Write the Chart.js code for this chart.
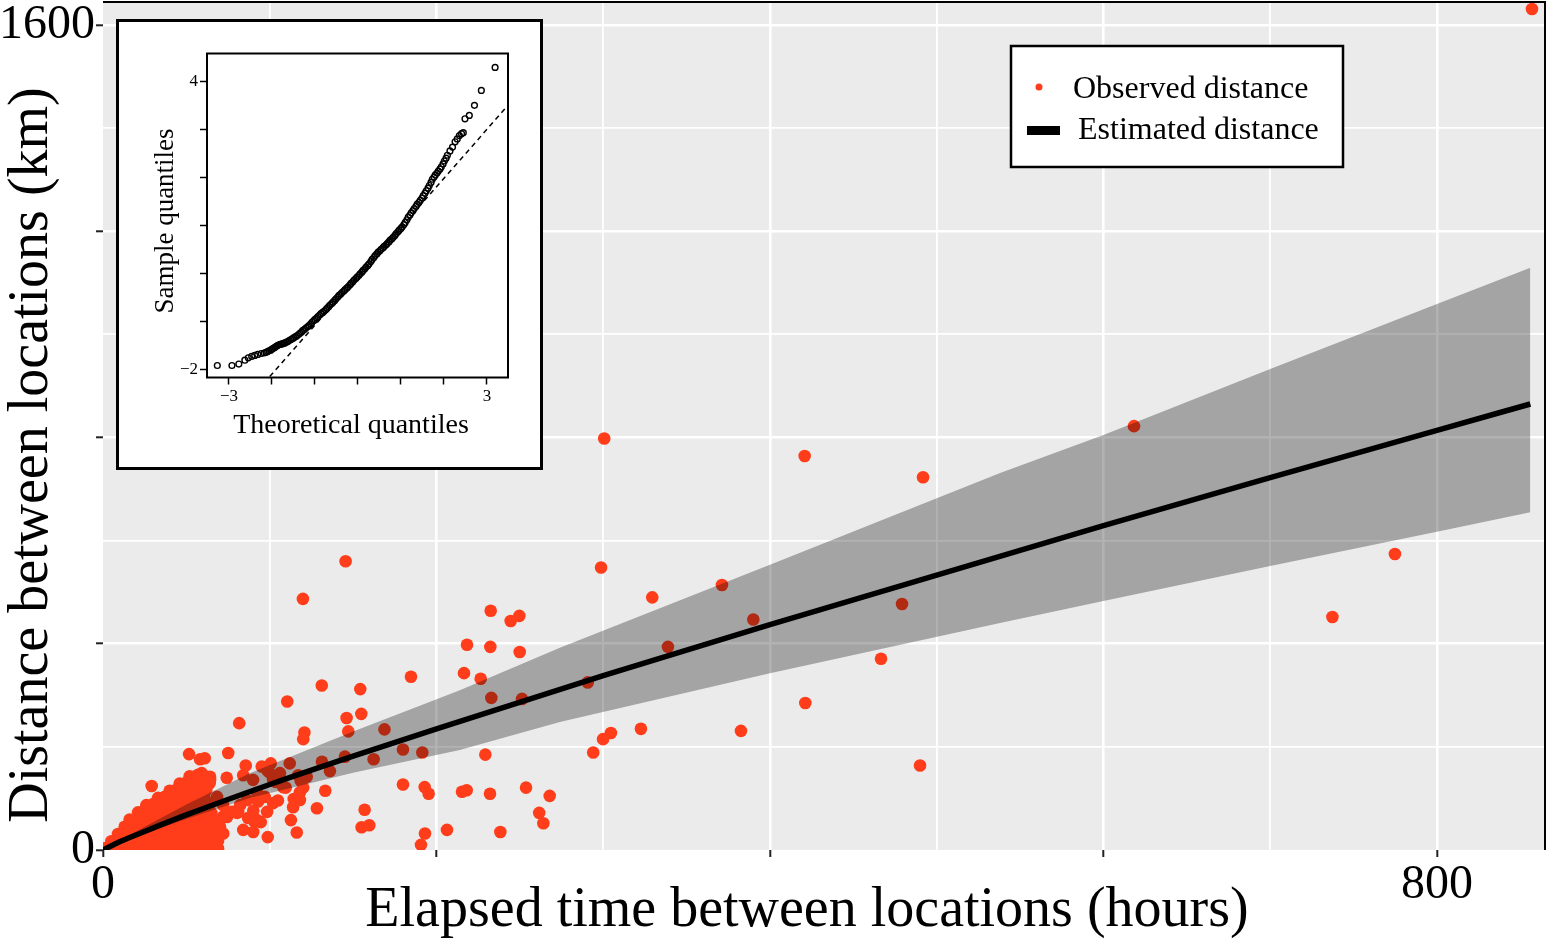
<!DOCTYPE html>
<html>
<head>
<meta charset="utf-8">
<script src="https://cdn.jsdelivr.net/npm/chart.js@4.4.1/dist/chart.umd.min.js"></script>
<style>
  html, body { margin: 0; padding: 0; background: #fff; }
  #wrap { position: relative; width: 1546px; height: 940px; }
  #main { position: absolute; left: 0; top: 0; }
  #insetBox { position: absolute; left: 116px; top: 19px; width: 421px; height: 445px;
              border: 3px solid #000; background: #fff; }
  #inset { display: block; }
</style>
</head>
<body>
<div id="wrap">
  <canvas id="main" width="1546" height="940"></canvas>
  <div id="insetBox"><canvas id="inset" width="421" height="445"></canvas></div>
</div>
<script>
// ---- data ----
// scattered observations: hours / km
var obsHours = [857.0, 300.6, 618.3, 420.8, 491.8, 145.5, 298.7, 774.8, 119.9, 329.4,
  371.2, 232.5, 244.5, 249.7, 390.0, 479.2, 737.3, 338.8, 218.3, 232.3,
  249.9, 466.6, 184.7, 216.5, 226.5, 290.7, 232.9, 251.3, 131.2, 154.3,
  110.5, 421.2, 146.1, 154.9, 147.1, 120.8, 120.1, 168.8, 322.6, 304.6,
  299.9, 382.6, 294.0, 179.9, 191.5, 162.3, 229.3, 145.1, 131.3, 136.1,
  490.0, 81.7, 51.6, 58.2, 61.0, 75.1, 112.0, 100.6, 95.2, 117.1,
  118.6, 103.7, 109.6, 120.1, 118.1, 97.0, 114.4, 104.9, 93.0, 133.3,
  179.9, 192.9, 195.3, 215.3, 218.1, 232.1, 253.7, 267.9, 261.6, 264.1,
  156.9, 128.3, 112.7, 116.2, 155.1, 159.7, 94.6, 90.1, 98.8, 193.1,
  190.7, 206.3, 238.3, 72.1, 58.2, 45.8, 90.1, 81.1, 84.1, 72.1,
  29.2, 59.2, 64.2, 74.2, 84.1, 85.6, 99.6, 90.6];
var obsKm = [1631, 798, 822, 764, 723, 560, 548, 574, 487, 490,
  514, 464, 444, 454, 447, 477, 452, 394, 398, 394,
  384, 371, 336, 343, 332, 325, 295, 293, 319, 312,
  288, 285, 256, 264, 230, 228, 215, 234, 235, 227,
  215, 231, 189, 195, 189, 176, 185, 181, 171, 153,
  164, 246, 186, 176, 178, 188, 168, 168, 162, 145,
  134, 132, 121, 121, 112, 103, 99, 96, 94, 115,
  127, 122, 109, 113, 116, 109, 121, 105, 72, 52,
  78, 81, 58, 34, 44, 48, 54, 35, 25, 32,
  10, 39, 35, 32, 16, 10, 76, 74, 39, 65,
  124, 149, 142, 140, 145, 164, 151, 56];

// points around the edge of the dense cluster
var nearHours = [64.2, 60.0, 68.4, 72.0, 74.4, 64.2, 58.2, 70.2, 77.4, 82.2, 80.4, 87.0, 92.4,
  90.0, 98.4, 102.0, 106.1, 92.4, 86.4, 94.2, 98.4, 102.0, 108.0, 118.1, 114.0, 122.2];
var nearKm = [136, 111, 103, 87, 64, 52, 72, 45, 74, 87, 72, 62, 58,
  136, 155, 136, 149, 111, 97, 103, 74, 91, 122, 97, 83, 142];

// the saturated cluster close to the origin
var clusterHours = [1.5, 5, 9, 14, 19, 24, 29, 34, 39, 44, 49, 54, 59, 64, 69,
  5, 9, 14, 19, 24, 29, 34, 39, 44, 49, 54, 59, 64, 69,
  9, 13, 18, 23, 28, 33, 38, 43, 48, 53, 58, 63, 68,
  13, 17, 22, 27, 32, 37, 42, 47, 52, 57, 62, 67,
  16, 21, 26, 31, 36, 41, 46, 51, 56, 61, 66,
  21, 25, 30, 35, 40, 45, 50, 55, 60, 65,
  26, 30, 35, 40, 45, 50, 55, 60, 64,
  33, 37, 42, 46, 51, 56, 61,
  40, 44, 48, 52, 57, 62,
  46, 50, 54, 59, 64,
  52, 57, 62];
var clusterKm = [4, 6, 3, 5, 4, 7, 3, 5, 4, 6, 2, 5, 4, 6, 3,
  17, 19, 15, 20, 17, 21, 16, 20, 18, 15, 19, 17, 21, 18,
  31, 33, 29, 34, 31, 35, 30, 34, 32, 29, 33, 31, 35,
  45, 48, 44, 49, 45, 47, 43, 48, 46, 44, 47, 45,
  59, 62, 58, 63, 59, 61, 57, 62, 60, 58, 61,
  73, 76, 72, 77, 73, 75, 71, 76, 74, 72,
  87, 89, 85, 90, 87, 89, 86, 91, 88,
  101, 103, 99, 104, 101, 103, 100,
  115, 117, 113, 118, 115, 117,
  129, 131, 127, 132, 130,
  143, 146, 142];

// fitted curve and its band
var estHours = [0, 10, 25, 50, 100, 150, 200, 300, 400, 500, 600, 700, 800, 856];
var estKm = [0, 16, 36, 68, 127, 182, 235, 338, 437, 533, 629, 722, 814, 865];
var bandHours = [0, 25, 50, 88, 150, 214, 274, 400, 538, 600, 700, 800, 856];
var bandUpper = [0, 45, 88, 149, 230, 310, 392, 553, 731, 805, 933, 1059, 1129];
var bandLower = [0, 32, 60, 101, 150, 194, 248, 343, 440, 483, 551, 617, 655];

// axis ticks
var xGridTicks = [0, 100, 200, 300, 400, 500, 600, 700, 800];
var xMajorTicks = [0, 200, 400, 600, 800];
var xLabelTicks = [0, 800];
var yGridTicks = [0, 200, 400, 600, 800, 1000, 1200, 1400, 1600];
var yMajorTicks = [0, 400, 800, 1200, 1600];
var yLabelTicks = [0, 1600];

// inset Q-Q plot
var qqTheoretical = [-3.27, -2.93, -2.77, -2.63, -2.55, -2.47, -2.40, -2.33, -2.25, -2.18,
  -2.10, -2.03, -1.96, -1.90, -1.84, -1.77, -1.70, -1.63, -1.56, -1.49,
  -1.42, -1.35, -1.28, -1.21, -1.14, -1.07, -1.00, -0.93, -0.86, -0.79,
  -0.72, -0.65, -0.58, -0.51, -0.44, -0.37, -0.30, -0.23, -0.16, -0.09,
  -0.02, 0.05, 0.12, 0.19, 0.26, 0.33, 0.40, 0.47, 0.54, 0.61,
  0.68, 0.75, 0.82, 0.89, 0.96, 1.03, 1.10, 1.17, 1.24, 1.31,
  1.38, 1.45, 1.52, 1.59, 1.66, 1.73, 1.80, 1.87, 1.94, 2.01,
  2.08, 2.14, 2.20, 2.26, 2.31, 2.36, 2.41, 2.45, 2.49, 2.59,
  2.71, 2.87, 3.19];
var qqSample = [-1.92, -1.92, -1.89, -1.81, -1.76, -1.73, -1.71, -1.69, -1.67, -1.66,
  -1.63, -1.60, -1.56, -1.52, -1.49, -1.47, -1.45, -1.42, -1.38, -1.34,
  -1.30, -1.25, -1.19, -1.14, -1.09, -1.02, -0.96, -0.90, -0.84, -0.79,
  -0.73, -0.66, -0.60, -0.53, -0.46, -0.40, -0.34, -0.28, -0.21, -0.14,
  -0.08, -0.01, 0.06, 0.13, 0.20, 0.29, 0.37, 0.44, 0.50, 0.56,
  0.62, 0.69, 0.75, 0.83, 0.90, 0.97, 1.06, 1.17, 1.26, 1.35,
  1.44, 1.52, 1.62, 1.72, 1.83, 1.96, 2.05, 2.13, 2.22, 2.34,
  2.46, 2.55, 2.63, 2.74, 2.80, 2.87, 2.91, 2.93, 3.22, 3.29,
  3.50, 3.81, 4.29];
// the crowded middle part of the Q-Q curve
var qqTheoreticalMid = [-2.14, -2.07, -2.00, -1.93, -1.87, -1.80, -1.73, -1.66, -1.60, -1.52,
  -1.45, -1.38, -1.31, -1.24, -1.17, -1.10, -1.03, -0.96, -0.89, -0.82,
  -0.75, -0.68, -0.61, -0.54, -0.47, -0.40, -0.33, -0.26, -0.19, -0.12,
  -0.05, 0.02, 0.09, 0.16, 0.23, 0.30, 0.37, 0.44, 0.51, 0.58,
  0.65, 0.72, 0.79, 0.86, 0.93, 1.00, 1.07, 1.14, 1.21, 1.28,
  1.35, 1.42, 1.49, 1.56, 1.63, 1.70, 1.77, 1.84, 1.91, 1.98, 2.05];
var qqSampleMid = [-1.645, -1.615, -1.58, -1.54, -1.505, -1.48, -1.46, -1.435, -1.40, -1.36,
  -1.32, -1.275, -1.22, -1.165, -1.115, -1.055, -0.99, -0.93, -0.87, -0.815,
  -0.76, -0.695, -0.63, -0.565, -0.495, -0.43, -0.37, -0.31, -0.245, -0.175,
  -0.11, -0.045, 0.025, 0.095, 0.165, 0.245, 0.33, 0.405, 0.47, 0.53,
  0.59, 0.655, 0.72, 0.79, 0.865, 0.935, 1.015, 1.115, 1.215, 1.305,
  1.395, 1.48, 1.57, 1.67, 1.775, 1.895, 2.005, 2.09, 2.175, 2.28, 2.40];
var qqLineX = [-2.05, 3.5];
var qqLineY = [-2.15, 3.51];
var qqXTicks = [-3, -2, -1, 0, 1, 2, 3];
var qqXLabels = [-3, 3];
var qqYTicks = [-2, -1, 0, 1, 2, 3, 4];
var qqYLabels = [-2, 4];

var serif = "'Liberation Serif', 'Times New Roman', serif";
Chart.defaults.font.family = serif;
Chart.defaults.color = '#000';

function pts(xs, ys) {
  return xs.map(function (v, i) { return { x: v, y: ys[i] }; });
}
function minus(v) {
  return v < 0 ? '\u2212' + Math.abs(v) : String(v);
}

var observedColor = '#FF3D1A';

// panel background, top/right frame, axis titles and legend
var ggFrame = {
  id: 'ggFrame',
  beforeDraw: function (chart) {
    var a = chart.chartArea, ctx = chart.ctx;
    ctx.save();
    ctx.fillStyle = '#EBEBEB';
    ctx.fillRect(a.left, a.top, a.right - a.left, a.bottom - a.top);
    ctx.restore();
  },
  afterDraw: function (chart) {
    var a = chart.chartArea, ctx = chart.ctx;
    ctx.save();
    ctx.strokeStyle = '#000';
    ctx.lineWidth = 2;
    ctx.beginPath();
    ctx.moveTo(a.left, a.top);
    ctx.lineTo(a.right, a.top);
    ctx.lineTo(a.right, a.bottom);
    ctx.stroke();

    ctx.fillStyle = '#000';
    ctx.font = '56px ' + serif;
    ctx.textAlign = 'center';
    ctx.textBaseline = 'alphabetic';
    ctx.fillText('Elapsed time between locations (hours)', 807, 926);
    ctx.save();
    ctx.translate(47, 455);
    ctx.rotate(-Math.PI / 2);
    ctx.fillText('Distance between locations (km)', 0, 0);
    ctx.restore();

    // legend
    ctx.fillStyle = '#fff';
    ctx.fillRect(1011, 46, 332, 121);
    ctx.lineWidth = 2.5;
    ctx.strokeStyle = '#000';
    ctx.strokeRect(1011, 46, 332, 121);
    ctx.fillStyle = chart.data.datasets[0].backgroundColor;
    ctx.beginPath();
    ctx.arc(1039, 87, 3.5, 0, Math.PI * 2);
    ctx.fill();
    ctx.fillStyle = chart.data.datasets[3].borderColor;
    ctx.fillRect(1027, 126, 33, 9);
    ctx.fillStyle = '#000';
    ctx.font = '32px ' + serif;
    ctx.textAlign = 'left';
    ctx.fillText(chart.data.datasets[0].label, 1073, 98);
    ctx.fillText(chart.data.datasets[3].label, 1078, 139);
    ctx.restore();
  }
};

var mainChart = new Chart(document.getElementById('main'), {
  type: 'scatter',
  data: {
    datasets: [{
      label: 'Observed distance',
      data: pts(obsHours.concat(nearHours, clusterHours), obsKm.concat(nearKm, clusterKm)),
      backgroundColor: observedColor,
      borderWidth: 0,
      pointRadius: 6.3,
      order: 3
    }, {
      type: 'line',
      label: 'band lower',
      data: pts(bandHours, bandLower),
      borderWidth: 0,
      pointRadius: 0,
      fill: false,
      order: 2
    }, {
      type: 'line',
      label: 'band upper',
      data: pts(bandHours, bandUpper),
      borderWidth: 0,
      pointRadius: 0,
      fill: '-1',
      backgroundColor: 'rgba(0,0,0,0.3)',
      order: 1
    }, {
      type: 'line',
      label: 'Estimated distance',
      data: pts(estHours, estKm),
      borderColor: '#000',
      borderWidth: 5.5,
      pointRadius: 0,
      cubicInterpolationMode: 'monotone',
      fill: false,
      order: 0
    }]
  },
  options: {
    responsive: false,
    animation: false,
    layout: { autoPadding: false, padding: { top: 2, right: 1, left: 0, bottom: 0 } },
    plugins: { legend: { display: false }, tooltip: { enabled: false } },
    scales: {
      x: {
        type: 'linear',
        min: 0,
        max: 864.8,
        afterBuildTicks: function (s) { s.ticks = xGridTicks.map(function (v) { return { value: v }; }); },
        afterFit: function (s) { s.height = 90; s.paddingLeft = 0; s.paddingRight = 0; },
        border: { display: false },
        grid: {
          color: function (c) { return c.tick && c.tick.value === 0 ? 'rgba(0,0,0,0)' : '#fff'; },
          lineWidth: function (c) { return c.tick && xMajorTicks.indexOf(c.tick.value) >= 0 ? 2.6 : 1.8; },
          drawTicks: true,
          tickLength: 7,
          tickWidth: 2,
          tickColor: function (c) { return c.tick && xMajorTicks.indexOf(c.tick.value) >= 0 ? '#222' : 'rgba(0,0,0,0)'; }
        },
        ticks: {
          autoSkip: false,
          maxRotation: 0,
          padding: 0,
          color: '#000',
          font: { size: 48 },
          callback: function (v) { return xLabelTicks.indexOf(v) >= 0 ? String(v) : ''; }
        }
      },
      y: {
        type: 'linear',
        min: 0,
        max: 1644.6,
        afterBuildTicks: function (s) { s.ticks = yGridTicks.map(function (v) { return { value: v }; }); },
        afterFit: function (s) { s.width = 103; s.paddingTop = 0; s.paddingBottom = 0; },
        border: { display: false },
        grid: {
          color: function (c) { return c.tick && c.tick.value === 0 ? 'rgba(0,0,0,0)' : '#fff'; },
          lineWidth: function (c) { return c.tick && yMajorTicks.indexOf(c.tick.value) >= 0 ? 2.6 : 1.8; },
          drawTicks: true,
          tickLength: 7,
          tickWidth: 2,
          tickColor: function (c) { return c.tick && yMajorTicks.indexOf(c.tick.value) >= 0 ? '#222' : 'rgba(0,0,0,0)'; }
        },
        ticks: {
          autoSkip: false,
          padding: 1,
          color: '#000',
          font: { size: 48 },
          callback: function (v) { return yLabelTicks.indexOf(v) >= 0 ? String(v) : ''; }
        }
      }
    }
  },
  plugins: [ggFrame]
});

// inset: box around plot area and axis titles
var qqFrame = {
  id: 'qqFrame',
  afterDraw: function (chart) {
    var a = chart.chartArea, ctx = chart.ctx;
    ctx.save();
    ctx.strokeStyle = '#000';
    ctx.lineWidth = 2;
    ctx.strokeRect(a.left, a.top, a.right - a.left, a.bottom - a.top);
    ctx.fillStyle = '#000';
    ctx.font = '28px ' + serif;
    ctx.textAlign = 'center';
    ctx.textBaseline = 'alphabetic';
    ctx.fillText('Theoretical quantiles', 232, 411);
    ctx.translate(54, 199);
    ctx.rotate(-Math.PI / 2);
    ctx.font = '27px ' + serif;
    ctx.fillText('Sample quantiles', 0, 0);
    ctx.restore();
  }
};

var insetChart = new Chart(document.getElementById('inset'), {
  type: 'scatter',
  data: {
    datasets: [{
      label: 'Q-Q',
      data: pts(qqTheoretical.concat(qqTheoreticalMid), qqSample.concat(qqSampleMid)),
      pointStyle: 'circle',
      pointRadius: 2.9,
      borderWidth: 1.4,
      borderColor: '#000',
      backgroundColor: 'rgba(0,0,0,0)',
      order: 0
    }, {
      type: 'line',
      label: 'reference line',
      data: pts(qqLineX, qqLineY),
      borderColor: '#000',
      borderWidth: 1.5,
      borderDash: [5, 4],
      pointRadius: 0,
      fill: false,
      order: 1
    }]
  },
  options: {
    responsive: false,
    animation: false,
    layout: { autoPadding: false, padding: { top: 31.5, right: 32, left: 0, bottom: 0 } },
    plugins: { legend: { display: false }, tooltip: { enabled: false } },
    scales: {
      x: {
        type: 'linear',
        min: -3.51,
        max: 3.49,
        afterBuildTicks: function (s) { s.ticks = qqXTicks.map(function (v) { return { value: v }; }); },
        afterFit: function (s) { s.height = 89.5; s.paddingLeft = 0; s.paddingRight = 0; },
        border: { display: false },
        grid: { drawOnChartArea: false, drawTicks: true, tickLength: 7, tickWidth: 1.5, tickColor: '#000', color: '#000' },
        ticks: {
          autoSkip: false, maxRotation: 0, padding: 2, color: '#000', font: { size: 17 },
          callback: function (v) { return qqXLabels.indexOf(v) >= 0 ? minus(v) : ''; }
        }
      },
      y: {
        type: 'linear',
        min: -2.17,
        max: 4.58,
        afterBuildTicks: function (s) { s.ticks = qqYTicks.map(function (v) { return { value: v }; }); },
        afterFit: function (s) { s.width = 88; s.paddingTop = 0; s.paddingBottom = 0; },
        border: { display: false },
        grid: { drawOnChartArea: false, drawTicks: true, tickLength: 7, tickWidth: 1.5, tickColor: '#000', color: '#000' },
        ticks: {
          autoSkip: false, padding: 2, color: '#000', font: { size: 17 },
          callback: function (v) { return qqYLabels.indexOf(v) >= 0 ? minus(v) : ''; }
        }
      }
    }
  },
  plugins: [qqFrame]
});
</script>
</body>
</html>
